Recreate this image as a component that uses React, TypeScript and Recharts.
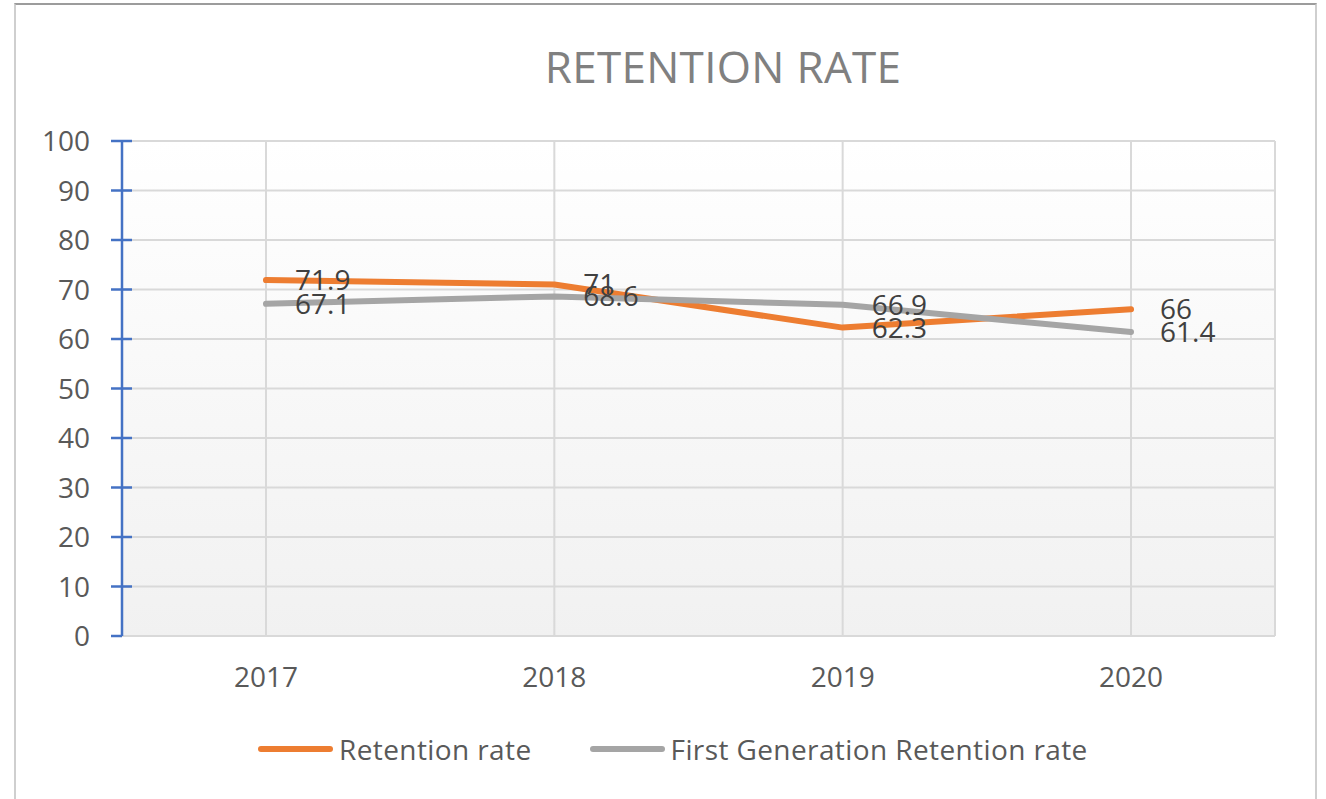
import React from 'react';
import { LineChart, Line, XAxis, YAxis, CartesianGrid, LabelList } from 'recharts';

const years = ['2017', '2018', '2019', '2020'];
const retentionRate = [71.9, 71, 62.3, 66];
const firstGenRetentionRate = [67.1, 68.6, 66.9, 61.4];
const yTicks = [0, 10, 20, 30, 40, 50, 60, 70, 80, 90, 100];

const data = years.map((year, i) => ({
  year,
  retention: retentionRate[i],
  firstGen: firstGenRetentionRate[i],
}));

const FONT = '"Open Sans", "Noto Sans", sans-serif';
const AXIS_BLUE = '#4472C4';
const ORANGE = '#ED7D31';
const GRAY = '#A5A5A5';

function YTick({ x, y, payload }: any) {
  const v = payload.value;
  return (
    <g>
      <line x1={x - 11} x2={v === 0 ? x : x + 10} y1={y} y2={y} stroke={AXIS_BLUE} strokeWidth={2.5} />
      <text x={x - 32} y={y} dy="0.36em" textAnchor="end" fontSize={28} fill="#595959" fontFamily={FONT}>
        {v}
      </text>
    </g>
  );
}

function LegendItem({ color, label }: { color: string; label: string }) {
  return (
    <div style={{ display: 'flex', alignItems: 'center' }}>
      <div style={{ width: 75, height: 6, borderRadius: 3, background: color, marginRight: 6 }} />
      <span>{label}</span>
    </div>
  );
}

export default function App() {
  return (
    <div style={{ position: 'absolute', left: 0, top: 0, width: 1326, height: 799, background: '#fff', overflow: 'hidden' }}>
      {/* frame */}
      <div
        style={{
          position: 'absolute', left: 14, top: 3, width: 1299, height: 800,
          borderTop: '2px solid #9c9c9c', borderLeft: '2px solid #cfcfcf', borderRight: '2px solid #cfcfcf',
        }}
      />
      <div
        style={{
          position: 'absolute', left: 423, top: 44, width: 600, textAlign: 'center',
          fontFamily: FONT, fontSize: 44, lineHeight: 1, color: '#808080', letterSpacing: 0.3,
        }}
      >
        RETENTION RATE
      </div>
      <div style={{ position: 'absolute', left: 0, top: 0 }}>
        <LineChart width={1326} height={799} data={data} margin={{ top: 141, right: 51, bottom: 103, left: 22 }}>
          <defs>
            <linearGradient id="plotBg" x1="0" y1="0" x2="0" y2="1">
              <stop offset="0%" stopColor="#ffffff" />
              <stop offset="100%" stopColor="#f1f1f1" />
            </linearGradient>
          </defs>
          <CartesianGrid stroke="#d9d9d9" strokeWidth={2} fill="url(#plotBg)" />
          <XAxis
            dataKey="year"
            padding={{ left: 144, right: 144 }}
            height={60}
            axisLine={false}
            tickLine={false}
            tickSize={0}
            tickMargin={31}
            interval={0}
            tick={{ fontSize: 28, fill: '#595959', fontFamily: FONT }}
          />
          <YAxis
            domain={[0, 100]}
            ticks={yTicks}
            interval={0}
            width={100}
            tickSize={0}
            tickMargin={0}
            tickLine={false}
            axisLine={{ stroke: AXIS_BLUE, strokeWidth: 2.5 }}
            tick={<YTick />}
          />
          <Line
            type="linear"
            dataKey="retention"
            stroke={ORANGE}
            strokeWidth={6}
            strokeLinecap="round"
            strokeLinejoin="round"
            dot={false}
            activeDot={false}
            isAnimationActive={false}
          >
            <LabelList dataKey="retention" position="right" offset={29} fontSize={28} fill="#404040" fontFamily={FONT} />
          </Line>
          <Line
            type="linear"
            dataKey="firstGen"
            stroke={GRAY}
            strokeWidth={6}
            strokeLinecap="round"
            strokeLinejoin="round"
            dot={false}
            activeDot={false}
            isAnimationActive={false}
          >
            <LabelList dataKey="firstGen" position="right" offset={29} fontSize={28} fill="#404040" fontFamily={FONT} />
          </Line>
        </LineChart>
      </div>
      <div
        style={{
          position: 'absolute', left: 258, top: 735, display: 'flex', alignItems: 'center', gap: 58,
          fontFamily: FONT, fontSize: 28, lineHeight: 1, color: '#595959', letterSpacing: 0.4,
        }}
      >
        <LegendItem color={ORANGE} label="Retention rate" />
        <LegendItem color={GRAY} label="First Generation Retention rate" />
      </div>
    </div>
  );
}
